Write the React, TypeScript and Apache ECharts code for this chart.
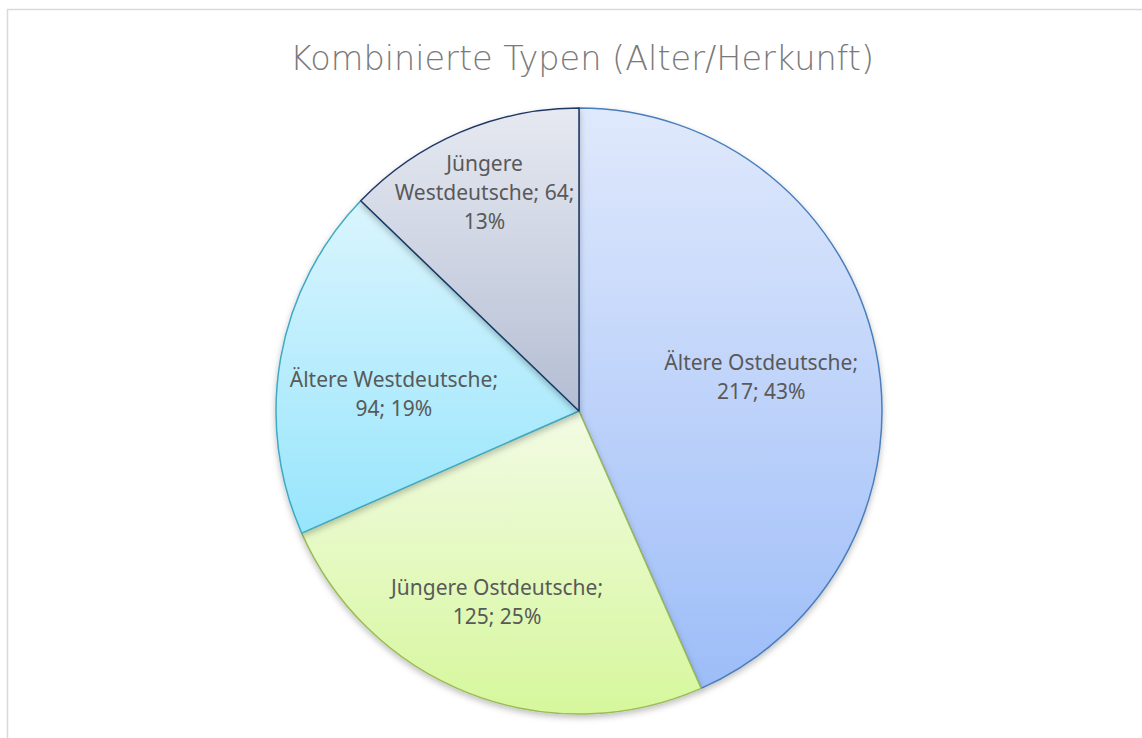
import React, { useEffect, useRef } from "react";
import * as echarts from "echarts";

const titleText = "Kombinierte Typen (Alter/Herkunft)";
const categories = ["Ältere Ostdeutsche", "Jüngere Ostdeutsche", "Ältere Westdeutsche", "Jüngere Westdeutsche"];
const values = [217, 125, 94, 64];
const topColors = ["#e0e9fc", "#f2fbe4", "#daf5fd", "#e6e9f1"];
const bottomColors = ["#9dbdf8", "#d6f79c", "#97e5fc", "#b4bed3"];
const borderColors = ["#4a7ebb", "#9bbb59", "#3fa9c4", "#1f3864"];

// label line-break formats (per slice)
const labelFormats = [
  (n: string, v: number, p: number) => `${n};\n${v}; ${p}%`,
  (n: string, v: number, p: number) => `${n};\n${v}; ${p}%`,
  (n: string, v: number, p: number) => `${n};\n${v}; ${p}%`,
  (n: string, v: number, p: number) => n.replace(" ", "\n") + `; ${v};\n${p}%`,
];
const labelShift = [
  [31, -3],
  [-26, 46],
  [-33, 10],
  [-34, -77],
];

export default function App() {
  const ref = useRef<HTMLDivElement>(null);
  useEffect(() => {
    if (!ref.current) return;
    const chart = echarts.init(ref.current, null, { renderer: "svg" });
    chart.setOption({
      animation: false,
      backgroundColor: "#ffffff",
      graphic: [
        {
          type: "rect",
          shape: { x: 7.5, y: 9.5, width: 1300, height: 900 },
          style: { fill: "none", stroke: "#d9d9d9", lineWidth: 1.5 },
          silent: true,
        },
      ],
      title: {
        text: titleText,
        left: 577,
        top: 36,
        textAlign: "center",
        textStyle: {
          fontFamily: "DejaVu Sans",
          fontWeight: 200,
          fontSize: 33.5,
          color: "#7a7a7a",
        },
      },
      series: [
        {
          type: "pie",
          center: [579, 411],
          radius: 303,
          startAngle: 90,
          clockwise: true,
          percentPrecision: 0,
          avoidLabelOverlap: false,
          label: {
            show: true,
            position: "inner",
            fontFamily: "Noto Sans",
            fontSize: 21,
            lineHeight: 29,
            color: "#595959",
            align: "center",
            formatter: (p: any) => labelFormats[p.dataIndex](p.name, p.value, Math.round(p.percent)),
          },
          labelLine: { show: false },
          labelLayout: (p: any) => ({ dx: labelShift[p.dataIndex][0], dy: labelShift[p.dataIndex][1] }),
          emphasis: { disabled: true },
          data: categories.map((name, i) => ({
            name,
            value: values[i],
            itemStyle: {
              color: new echarts.graphic.LinearGradient(0, 0, 0, 1, [
                { offset: 0, color: topColors[i] },
                { offset: 1, color: bottomColors[i] },
              ]),
              borderColor: borderColors[i],
              borderWidth: 1.5,
              shadowBlur: 6,
              shadowOffsetY: 3,
              shadowColor: "rgba(0,0,0,0.25)",
            },
          })),
        },
      ],
    });
    return () => chart.dispose();
  }, []);
  return <div ref={ref} style={{ position: "fixed", left: 0, top: 0, width: 1142, height: 738 }} />;
}
